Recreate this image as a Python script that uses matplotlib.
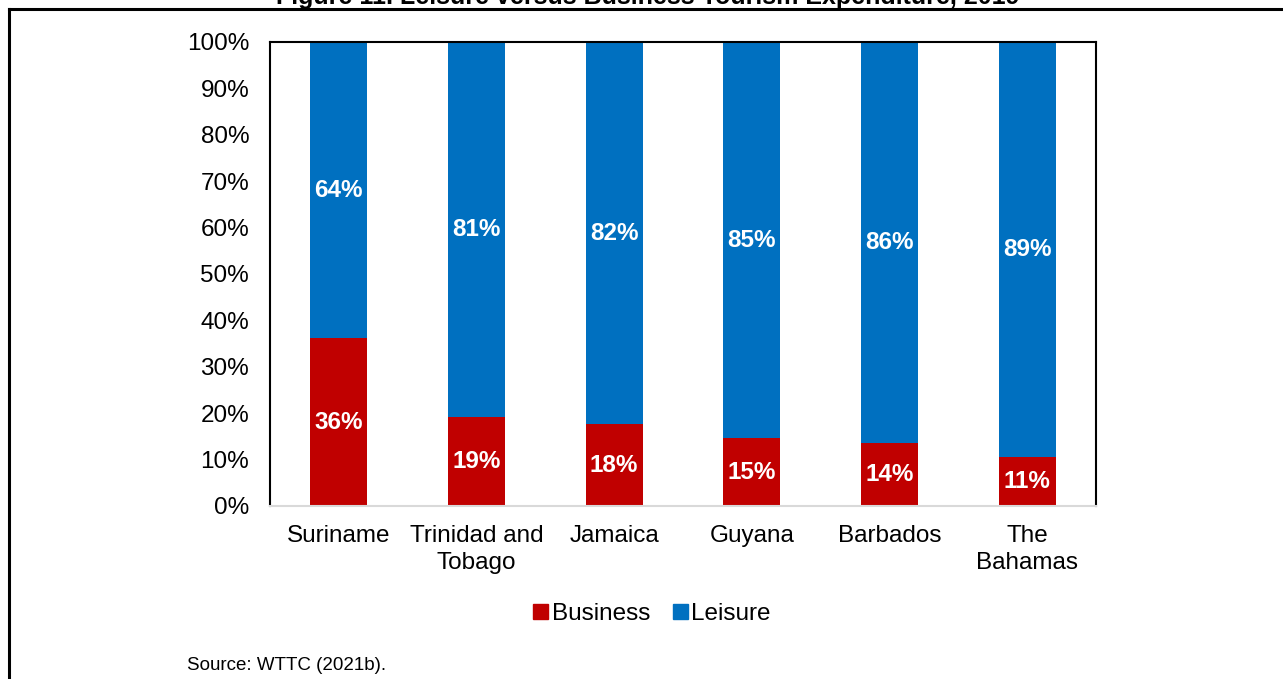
import matplotlib
matplotlib.use('Agg')
import matplotlib.pyplot as plt
from matplotlib.lines import Line2D
from matplotlib.patches import Patch
import numpy as np

plt.rcParams['font.family'] = ['Liberation Sans', 'DejaVu Sans']

countries = ['Suriname', 'Trinidad and\nTobago', 'Jamaica', 'Guyana', 'Barbados', 'The\nBahamas']
business = [36.2, 19.2, 17.6, 14.6, 13.6, 10.6]
leisure = [63.8, 80.8, 82.4, 85.4, 86.4, 89.4]

red = '#C00000'
blue = '#0070C0'

fig = plt.figure(figsize=(12.83, 6.79), dpi=100)
ax = fig.add_axes([270/1283, 1-506/679, (1096-270)/1283, (506-42)/679])

x = np.arange(len(countries))
w = 0.414
b1 = ax.bar(x, business, w, color=red, label='Business')
b2 = ax.bar(x, leisure, w, bottom=business, color=blue, label='Leisure')

for i in range(len(x)):
    ax.text(x[i], business[i] / 2, f'{round(business[i])}%', ha='center', va='center',
            color='white', fontsize=17.5, fontweight='bold')
    ax.text(x[i], business[i] + leisure[i] / 2, f'{round(leisure[i])}%', ha='center', va='center',
            color='white', fontsize=17.5, fontweight='bold')

ax.set_xlim(-0.5, len(x) - 0.5)
ax.set_ylim(0, 100)
ax.set_yticks(np.arange(0, 101, 10))
ax.set_yticklabels([f'{v}%' for v in range(0, 101, 10)], fontsize=17.5)
ax.set_xticks(x)
ax.set_xticklabels(countries, fontsize=17.5, linespacing=1.27)
ax.tick_params(axis='both', length=0)
ax.tick_params(axis='y', pad=15)
ax.tick_params(axis='x', pad=14)

for s in ['top', 'left', 'right']:
    ax.spines[s].set_color('black')
    ax.spines[s].set_linewidth(1.5)
ax.spines['bottom'].set_color('#d9d9d9')
ax.spines['bottom'].set_linewidth(1.5)

handles = [Patch(color=red), Patch(color=blue)]
fig.legend(handles, ['Business', 'Leisure'], loc='center', bbox_to_anchor=(652/1283, 1-614/679),
           ncol=2, frameon=False, fontsize=17.5, handlelength=0.6, handleheight=0.6,
           handletextpad=0.15, columnspacing=0.95)

# outer frame (top and left edges)
fig.add_artist(Line2D([9/1283, 1], [1-9/679, 1-9/679], color='black', lw=2.2, transform=fig.transFigure))
fig.add_artist(Line2D([9/1283, 9/1283], [1-9/679, 0], color='black', lw=2.2, transform=fig.transFigure))

fig.text(648/1283, 1-4/679, 'Figure 11. Leisure versus Business Tourism Expenditure, 2019',
         ha='center', va='baseline', fontsize=18, fontweight='bold')
fig.text(187/1283, 1-666/679, 'Source: WTTC (2021b).', ha='left', va='center', fontsize=13.5)

fig.savefig('out.png', dpi=100)
